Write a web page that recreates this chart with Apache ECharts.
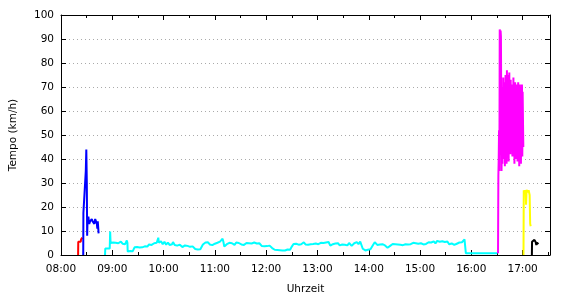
<!DOCTYPE html>
<html><head><meta charset="utf-8">
<script src="https://cdn.jsdelivr.net/npm/echarts@6/dist/echarts.min.js"></script>
<style>html,body{margin:0;padding:0;background:#fff}#c{width:570px;height:300px}</style>
</head><body><div id="c"></div>
<script>
// x values are minutes since midnight, y values are speed in km/h
var xTickLabels = ["08:00","09:00","10:00","11:00","12:00","13:00","14:00","15:00","16:00","17:00"];
var yTickLabels = [0,10,20,30,40,50,60,70,80,90,100];
var xTitle = "Uhrzeit";
var yTitle = "Tempo (km/h)";

var redData = [[500,0],[500.2,5.5],[501,5.2],[502,5.8],[503,5.5],[503.5,6.5],[504.2,6],[505,7.2]];

var blueData = [[506,0],[506.2,17.5],[508.5,17.5],[509,35],[509.6,44],[510.2,30],[510.6,8],[511,14],[512,16],[513,13],[514,14],[515,13.5],[516,15],[517,14],[518,14.5],[519,13],[520,15],[521,15.5],[522,13],[522.5,11],[523,14],[524,9]];

var cyanData = [[531.5,0],[531.8,2.7],[537,2.7],[537.5,9.8],
[538,5.0],[539,4.3],[540,4.6],[541,5.2],[542,4.8],[543,4.4],[544,5.1],[545,4.7],[546,5.5],[547,4.9],[548,5.3],[549,4.6],[550,5.6],[551,5.0],[552,4.7],[553,5.4],[554,5.1],[555,4.5],[556,5.2],[557,6.1],[557.7,5.0],
[558,1.5],[559,1.8],[560,1.4],[561,1.7],[562,1.5],[563,1.9],[564,1.6],[565,2.2],[566,3.2],[567,4.0],[568,3.6],[569,3.3],[570,3.8],[571,3.4],[572,3.1],[573,3.7],[574,3.9],[575,3.2],[576,3.5],[577,3.0],[578,3.6],[579,3.3],[580,2.9],[581,3.5],[582,3.9],[583,4.4],[584,5.0],[585,4.5],[586,4.2],[587,4.8],[588,4.4],[589,4.9],[590,4.3],[591,4.7],[592,5.1],[593,5.6],[593.8,7.2],[594.5,5.2],
[595,4.6],[596,5.3],[597,5.7],[598,4.9],[599,4.5],[600,5.2],[601,5.5],[602,4.8],[603,4.3],[604,4.9],[605,5.2],[606,4.6],[607,4.2],[608,4.8],[609,5.0],[610,4.5],[611,5.4],[612,4.7],[613,4.2],[614,4.8],[615,4.4],[616,3.9],[617,3.5],[618,4.1],[619,4.3],[620,3.7],[621,3.9],[622,3.3],[623,3.0],[624,3.6],[625,4.0],[626,3.5],[627,3.2],[628,3.8],[629,4.3],[630,3.7],[631,3.4],[632,3.9],[633,3.1],[634,3.6],[635,3.9],[636,3.3],
[637,2.5],[638,2.1],[639,1.9],[640,2.3],[641,1.8],[642,2.0],[643,2.4],[644,2.0],[645,2.6],[646,4.4],[647,5.0],[648,4.7],[649,5.2],[650,4.5],[651,4.9],[652,5.3],[653,4.8],[654,4.4],[655,4.9],[656,4.5],[657,4.1],[658,3.8],[659,4.4],[660,4.7],[661,4.2],[662,4.5],[663,5.1],[664,4.8],[665,5.3],[666,5.6],[667,5.0],[668,5.8],[669,6.8],[670,5.4],[671,3.5],[672,3.3],[673,3.9],[674,4.5],[675,4.8],[676,4.3],[677,5.1],[678,4.6],[679,4.3],[680,4.9],
[681,5.2],[682,4.5],[683,4.2],[684,4.8],[685,5.2],[686,4.7],[687,4.4],[688,5.0],[689,5.3],[690,4.8],[691,4.4],[692,4.9],[693,4.6],[694,4.2],[695,4.0],[696,4.7],[697,5.0],[698,4.6],[699,5.4],[700,4.9],[701,4.5],[702,5.1],[703,4.8],[704,4.3],[705,4.6],[706,5.2],[707,4.9],[708,4.5],[709,4.8],[710,4.4],[711,4.2],[712,4.9],[713,4.6],[714,4.1],[715,3.7],[716,4.3],[717,4.0],[718,3.6],[719,3.9],[720,4.1],[721,3.7],[722,3.4],[723,3.6],[724,3.9],[725,3.5],[726,3.2],[727,2.9],[728,2.7],
[729,2.4],[730,2.2],[731,2.5],[732,1.9],[733,2.1],[734,1.8],[735,2.4],[736,2.0],[737,1.7],[738,2.2],[739,1.9],[740,2.3],[741,2.5],[742,1.9],[743,2.1],[744,1.8],[745,2.3],[746,2.0],[747,2.4],[748,2.2],[749,2.8],[750,3.5],[751,4.1],[752,4.6],[753,4.3],[754,4.0],[755,4.7],[756,5.1],[757,4.6],[758,4.3],[759,4.8],[760,5.0],[761,4.5],[762,4.2],[763,4.9],[764,5.3],[765,4.7],[766,4.4],[767,4.6],[768,5.0],[769,4.3],[770,4.8],
[771,5.1],[772,4.5],[773,4.2],[774,4.9],[775,4.6],[776,5.0],[777,4.4],[778,4.8],[779,5.3],[780,4.9],[781,4.5],[782,4.2],[783,4.7],[784,5.1],[785,4.8],[786,5.4],[787,5.0],[788,4.5],[789,4.8],[790,5.2],[791,4.6],[792,4.9],[793,5.4],[794,4.6],[795,3.9],[796,3.6],[797,4.1],[798,4.5],[799,4.9],[800,4.4],[801,4.8],[802,4.2],[803,4.6],[804,4.9],[805,4.3],[806,4.0],[807,4.5],[808,4.8],[809,4.4],[810,4.1],[811,4.6],[812,4.3],[813,4.8],[814,4.2],[815,4.0],[816,4.6],[817,5.0],[818,4.5],[819,4.2],[820,3.8],
[821,4.1],[822,4.5],[823,4.9],[824,4.6],[825,5.1],[826,5.4],[827,4.9],[828,4.5],[829,5.2],[830,5.6],[831,5.9],[832,5.2],[833,2.6],[834,2.1],[835,2.3],[836,1.9],[837,2.4],[838,2.0],[839,2.2],[840,2.6],[841,2.1],[842,2.4],[843,2.0],[844,2.9],[845,4.2],[846,4.8],[847,5.3],[848,4.9],[849,4.5],[850,4.2],[851,4.6],[852,4.0],[853,4.4],[854,4.1],[855,3.8],[856,4.5],[857,4.7],[858,4.3],[859,4.0],[860,3.7],[861,3.4],[862,3.0],[863,2.6],[864,3.1],[865,3.8],
[866,4.5],[867,4.2],[868,4.6],[869,4.3],[870,4.0],[871,4.5],[872,4.7],[873,4.2],[874,4.4],[875,4.9],[876,4.6],[877,4.3],[878,4.7],[879,4.4],[880,4.1],[881,4.6],[882,4.9],[883,4.5],[884,4.2],[885,4.8],[886,4.4],[887,4.7],[888,5.0],[889,4.5],[890,4.3],[891,4.8],[892,5.1],[893,4.6],[894,4.4],[895,4.9],[896,4.5],[897,4.2],[898,4.7],[899,5.0],[900,4.6],[901,4.9],[902,5.2],[903,4.7],[904,4.4],[905,4.9],[906,5.1],[907,4.6],[908,4.3],[909,4.8],[910,5.3],
[911,5.0],[912,5.6],[913,5.2],[914,4.9],[915,5.4],[916,5.7],[917,5.1],[918,4.8],[919,5.3],[920,5.9],[921,5.4],[922,5.1],[923,5.5],[924,4.9],[925,5.3],[926,5.7],[927,5.2],[928,5.0],[929,5.4],[930,4.9],[931,5.2],[932,5.6],[933,5.0],[934,4.5],[935,4.9],[936,5.3],[937,4.8],[938,4.5],[939,4.9],[940,4.2],[941,4.6],[942,5.0],[943,4.7],[944,4.4],[945,4.9],[946,5.2],[947,4.8],[948,5.5],[949,5.3],[950,5.9],[951,5.6],[952,6.5],[953,5.8],[953.6,0.7],[990.5,0.7]];

var magentaData = [[991.2,0.7],[991.6,33],[992,40],[992.4,52],[992.8,35],[993.2,94],[993.7,92],[994.2,93.5],[994.6,91],[995,60],[995.3,35],[995.6,45],[996,70],[996.3,38],[996.6,64],[997,42],[997.3,74],[997.7,40],[998,68],[998.4,46],[998.8,72],[999.2,37],[999.6,60],[1000,75],[1000.4,41],[1000.8,66],[1001.2,38],[1001.6,77],[1002,46],[1002.4,70],[1002.8,44],[1003.2,75],[1003.6,39],[1004,63],[1004.4,76],[1004.8,48],[1005.2,69],[1005.6,42],[1006,73],[1006.4,45],[1006.8,66],[1007.2,51],[1007.6,71],[1008,41],[1008.4,67],[1008.8,49],[1009.2,74],[1009.6,44],[1010,70],[1010.4,38],[1010.8,64],[1011.2,72],[1011.6,47],[1012,69],[1012.4,40],[1012.8,71],[1013.2,55],[1013.6,70],[1014,39],[1014.4,66],[1014.8,72],[1015.2,46],[1015.6,70],[1016,37],[1016.4,61],[1016.8,71],[1017.2,45],[1017.6,69],[1018,38],[1018.4,70],[1018.8,52],[1019.2,71],[1019.6,41],[1020,68],[1020.4,56],[1020.8,45]];

var yellowData = [[1021,0],[1021.3,27],[1022,26],[1022.5,27],[1023,25.5],[1023.5,27],[1024,21],[1024.6,27.2],[1025.2,26],[1025.8,27],[1026.4,26],[1027,27],[1027.6,26.5],[1028.2,25],[1028.8,13],[1029.4,12]];

var blackData = [[1030.8,0],[1031,5.5],[1032,5.8],[1033,5.6],[1033.8,6.3],[1034.5,6],[1035.2,5.4],[1036,4.2],[1036.8,5.2],[1037.5,4.8],[1038.4,4.5]];

var xMin = 480, xMax = 1052;
var font = 'DejaVu Sans';
function fmt(v){ var i = Math.round((v - xMin) / 60); return xTickLabels[i] !== undefined ? xTickLabels[i] : ''; }

var chart = echarts.init(document.getElementById('c'), null, {renderer:'canvas'});
function ser(name, data, color){
  return {name:name, type:'line', data:data, showSymbol:false, symbol:'none', animation:false, sampling:null,
    lineStyle:{color:color, width:2}, itemStyle:{color:color}, z:3};
}
chart.setOption({
  animation:false,
  grid:{left:59, right:20, top:15, bottom:41},
  xAxis:[{
    type:'value', min:xMin, max:xMax, interval:60,
    name:xTitle, nameLocation:'middle', nameGap:29,
    nameTextStyle:{color:'#000', fontFamily:font, fontSize:10.5},
    axisLine:{show:true, onZero:false, lineStyle:{color:'#000', width:1}},
    axisTick:{show:true, inside:true, length:5, lineStyle:{color:'#000'}},
    minorTick:{show:true, splitNumber:2, length:3, lineStyle:{color:'#000'}},
    axisLabel:{color:'#000', fontFamily:font, fontSize:10.5, margin:9, formatter:fmt, showMaxLabel:false},
    splitLine:{show:false}
  },{
    type:'value', position:'top', min:xMin, max:xMax, interval:60,
    axisLine:{show:true, onZero:false, lineStyle:{color:'#000', width:1}},
    axisTick:{show:true, inside:true, length:5, lineStyle:{color:'#000'}},
    minorTick:{show:true, splitNumber:2, length:3, lineStyle:{color:'#000'}},
    axisLabel:{show:false}, splitLine:{show:false}
  }],
  yAxis:[{
    type:'value', min:0, max:100, interval:10,
    name:yTitle, nameLocation:'middle', nameGap:42,
    nameTextStyle:{color:'#000', fontFamily:font, fontSize:10.5},
    axisLine:{show:true, onZero:false, lineStyle:{color:'#000', width:1}},
    axisTick:{show:true, inside:true, length:5, lineStyle:{color:'#000'}},
    axisLabel:{color:'#000', fontFamily:font, fontSize:10.5, margin:7,
      formatter:function(v){ var i = Math.round(v/10); return yTickLabels[i] !== undefined ? String(yTickLabels[i]) : ''; }},
    splitLine:{show:true, lineStyle:{color:'#aaa', type:[1,3], width:1}}
  },{
    type:'value', position:'right', min:0, max:100, interval:10,
    axisLine:{show:true, onZero:false, lineStyle:{color:'#000', width:1}},
    axisTick:{show:true, inside:true, length:5, lineStyle:{color:'#000'}},
    axisLabel:{show:false}, splitLine:{show:false}
  }],
  series:[
    ser('rot', redData, '#ff0000'),
    ser('blau', blueData, '#0000ff'),
    ser('cyan', cyanData, '#00ffff'),
    ser('magenta', magentaData, '#ff00ff'),
    ser('gelb', yellowData, '#ffff00'),
    ser('schwarz', blackData, '#000000')
  ]
});
</script></body></html>
